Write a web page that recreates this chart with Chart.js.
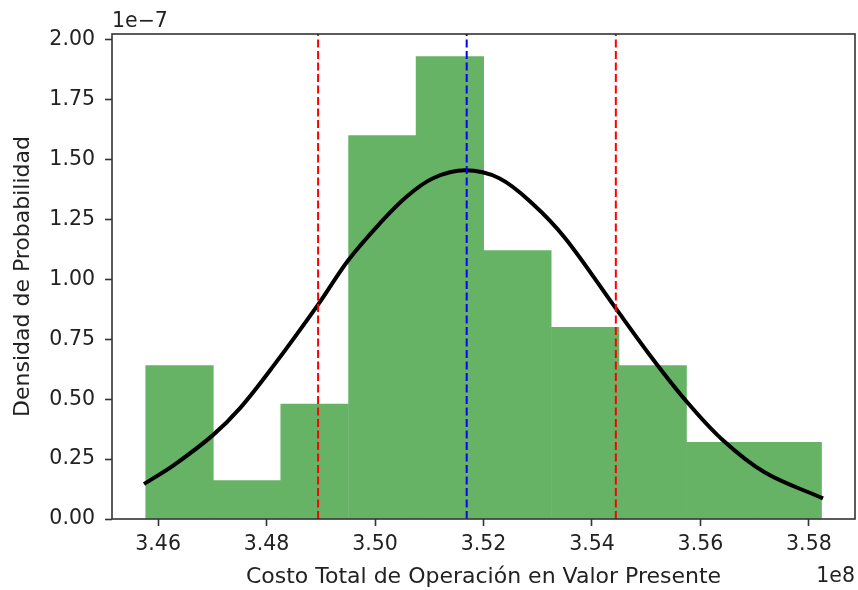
<!DOCTYPE html>
<html>
<head>
<meta charset="utf-8">
<script src="https://cdn.jsdelivr.net/npm/chart.js@4"></script>
<style>
  html, body { margin: 0; padding: 0; background: #fff; }
  #myChart { display: block; }
</style>
</head>
<body>
<canvas id="myChart" width="858" height="590"></canvas>
<script>
// histogram bins (x in units of 1e8, density in units of 1e-7)
var binEdges = [3.4577, 3.4702, 3.4826, 3.4951, 3.5076, 3.5200, 3.5325, 3.5450, 3.5574, 3.5699, 3.5823];
var densities = [0.64, 0.16, 0.48, 1.60, 1.93, 1.12, 0.80, 0.64, 0.32, 0.32];

// fitted normal curve
var curveX = [3.4574, 3.4629, 3.4700, 3.4752, 3.4813, 3.4895, 3.4951, 3.5009, 3.5058, 3.5107,
              3.5166, 3.5229, 3.5290, 3.5351, 3.5443, 3.5511, 3.5572, 3.5640, 3.5719, 3.5826];
var curveY = [0.146, 0.225, 0.348, 0.465, 0.640, 0.895, 1.081, 1.234, 1.345, 1.422,
              1.455, 1.422, 1.317, 1.171, 0.882, 0.671, 0.497, 0.332, 0.194, 0.086];

// mean and +/- one std dev markers
var meanX = 3.5169;
var lowX = 3.4895;
var highX = 3.5444;

var xTicks = [3.46, 3.48, 3.50, 3.52, 3.54, 3.56, 3.58];
var yTicks = [0, 0.25, 0.5, 0.75, 1.0, 1.25, 1.5, 1.75, 2.0];
var xMin = 3.4515, xMax = 3.5885;
var yMin = 0, yMax = 2.024;

var font = "'DejaVu Sans', sans-serif";
var fontSize = 20.5;
var labelSize = 22;
var textColor = '#222';

var barData = [];
for (var i = 0; i < densities.length; i++) {
	barData.push({ x: (binEdges[i] + binEdges[i + 1]) / 2, y: densities[i] });
}
var curveData = curveX.map(function (x, i) { return { x: x, y: curveY[i] }; });
function vline(x) { return [{ x: x, y: yMin }, { x: x, y: yMax }]; }

var framePlugin = {
	id: 'frame',
	afterDraw: function (chart) {
		var c = chart.ctx, a = chart.chartArea;
		c.save();
		c.strokeStyle = '#333';
		c.lineWidth = 1.6;
		c.strokeRect(a.left, a.top, a.right - a.left, a.bottom - a.top);
		c.fillStyle = textColor;
		c.font = fontSize + 'px ' + font;
		c.textAlign = 'left';
		c.textBaseline = 'alphabetic';
		c.fillText('1e\u22127', a.left, a.top - 7);
		c.textAlign = 'right';
		c.fillText('1e8', a.right, 582);
		c.restore();
	}
};

var ctx = document.getElementById("myChart");
var myChart = new Chart(ctx, {
	data: {
		datasets: [
			{
				type: 'bar',
				data: barData,
				backgroundColor: 'rgb(102,179,102)',
				borderWidth: 0,
				barPercentage: 1,
				categoryPercentage: 1,
				order: 3
			},
			{
				type: 'line',
				data: curveData,
				borderColor: '#000',
				borderWidth: 4,
				pointRadius: 0,
				tension: 0.35,
				order: 2
			},
			{
				type: 'line',
				data: vline(lowX),
				borderColor: '#ff0000',
				borderWidth: 2,
				borderDash: [8, 3.5],
				pointRadius: 0,
				order: 1
			},
			{
				type: 'line',
				data: vline(meanX),
				borderColor: '#0000ff',
				borderWidth: 2,
				borderDash: [8, 3.5],
				pointRadius: 0,
				order: 1
			},
			{
				type: 'line',
				data: vline(highX),
				borderColor: '#ff0000',
				borderWidth: 2,
				borderDash: [8, 3.5],
				pointRadius: 0,
				order: 1
			}
		]
	},
	options: {
		responsive: false,
		maintainAspectRatio: false,
		devicePixelRatio: 1,
		animation: false,
		layout: { padding: { left: 0, top: 34, right: 3, bottom: 0 } },
		plugins: {
			legend: { display: false },
			tooltip: { enabled: false },
			title: { display: false }
		},
		scales: {
			x: {
				type: 'linear',
				min: xMin,
				max: xMax,
				offset: false,
				afterBuildTicks: function (s) { s.ticks = xTicks.map(function (v) { return { value: v }; }); },
				afterFit: function (s) { s.height = 71; },
				grid: { display: true, drawOnChartArea: false, offset: false, tickLength: 7, tickColor: '#333', tickWidth: 1.6 },
				border: { display: false },
				ticks: {
					color: textColor,
					font: { family: font, size: fontSize },
					padding: 6,
					maxRotation: 0,
					autoSkip: false,
					callback: function (v) { return v.toFixed(2); }
				},
				title: {
					display: true,
					text: 'Costo Total de Operación en Valor Presente',
					color: textColor,
					font: { family: font, size: labelSize },
					padding: { top: 0, bottom: 0 }
				}
			},
			y: {
				type: 'linear',
				min: yMin,
				max: yMax,
				afterBuildTicks: function (s) { s.ticks = yTicks.map(function (v) { return { value: v }; }); },
				afterFit: function (s) { s.width = 112; },
				grid: { display: true, drawOnChartArea: false, tickLength: 7, tickColor: '#333', tickWidth: 1.6 },
				border: { display: false },
				ticks: {
					color: textColor,
					font: { family: font, size: fontSize },
					padding: 10,
					callback: function (v) { return v.toFixed(2); }
				},
				title: {
					display: true,
					text: 'Densidad de Probabilidad',
					color: textColor,
					font: { family: font, size: labelSize },
					padding: { top: 10, bottom: 0 }
				}
			}
		}
	},
	plugins: [framePlugin]
});
</script>
</body>
</html>
